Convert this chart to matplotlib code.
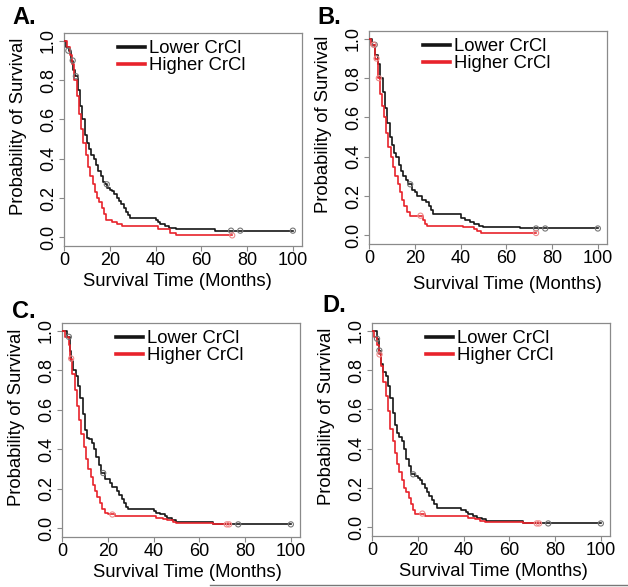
import matplotlib
matplotlib.use("Agg")
import matplotlib.pyplot as plt
from matplotlib.lines import Line2D

plt.rcParams['font.family'] = ['Liberation Sans', 'DejaVu Sans']

# ---- data ----
a_low_t = [0, 1, 2, 3, 4, 5, 6, 7, 8, 9, 10, 11, 12, 13, 14, 15, 16, 17, 18, 19, 20, 21, 22, 23,
           24, 25, 26, 27, 28, 29, 40, 41, 42, 44, 46, 49, 66, 100]
a_low_s = [1.0, 0.97, 0.95, 0.90, 0.85, 0.82, 0.75, 0.67, 0.60, 0.52, 0.48, 0.45, 0.42, 0.40,
           0.37, 0.34, 0.31, 0.28, 0.27, 0.25, 0.24, 0.235, 0.22, 0.20, 0.185, 0.17, 0.15, 0.13,
           0.115, 0.10, 0.09, 0.08, 0.07, 0.06, 0.05, 0.04, 0.034, 0.034]
a_low_ct = [1.9, 3.8, 5.2, 18.7, 73, 77, 100]
a_low_cs = [0.95, 0.90, 0.82, 0.27, 0.034, 0.034, 0.034]
a_high_t = [0, 1.5, 2.5, 3.5, 4.5, 5.5, 6.5, 7.5, 8.5, 9.5, 10.5, 11.5, 12.5, 13.5, 14.5, 15.5,
            16.5, 17.5, 18.5, 21, 23, 25.5, 41, 46.5, 49, 73.5]
a_high_s = [1.0, 0.97, 0.93, 0.88, 0.80, 0.72, 0.63, 0.55, 0.48, 0.42, 0.36, 0.31, 0.27, 0.23,
            0.20, 0.18, 0.15, 0.12, 0.09, 0.08, 0.07, 0.06, 0.04, 0.02, 0.01, 0.01]
a_high_ct = [73.5]
a_high_cs = [0.01]

b_low_t = [0, 1.5, 2.8, 4, 5, 6, 7, 8, 9, 10, 11, 12, 13, 14, 15, 16, 17, 19, 20, 21, 23, 25, 26,
           27, 28, 40, 42, 44, 46, 48, 50, 66, 100]
b_low_s = [1.0, 0.97, 0.92, 0.87, 0.80, 0.73, 0.65, 0.57, 0.50, 0.46, 0.42, 0.40, 0.36, 0.33,
           0.30, 0.28, 0.26, 0.23, 0.22, 0.20, 0.18, 0.17, 0.15, 0.13, 0.11, 0.09, 0.08, 0.07,
           0.06, 0.05, 0.045, 0.035, 0.035]
b_low_ct = [2.5, 18, 73, 77, 100]
b_low_cs = [0.97, 0.26, 0.035, 0.035, 0.035]
b_high_t = [0, 1, 2.5, 3.8, 4.8, 5.5, 6.5, 7.5, 8.5, 9.5, 10.5, 11.5, 12.5, 13.5, 14.5, 15.5,
            16.5, 18, 23.5, 24.5, 25.5, 41, 46, 47, 49, 73]
b_high_s = [1.0, 0.97, 0.90, 0.80, 0.72, 0.66, 0.60, 0.52, 0.45, 0.40, 0.35, 0.30, 0.26, 0.22,
            0.18, 0.15, 0.12, 0.10, 0.08, 0.06, 0.05, 0.04, 0.03, 0.02, 0.012, 0.012]
b_high_ct = [2, 3.3, 4.3, 22.5, 73]
b_high_cs = [0.97, 0.90, 0.80, 0.10, 0.012]

c_low_t = [0, 2, 3.5, 4, 5, 6, 7, 8, 9, 10, 11, 12, 13, 14, 15, 16, 17, 19, 21, 22, 24, 25, 26,
           27, 28, 29, 40, 41, 43, 45, 46, 48, 50, 66, 100]
c_low_s = [1.0, 0.97, 0.90, 0.85, 0.80, 0.77, 0.72, 0.66, 0.58, 0.50, 0.46, 0.45, 0.43, 0.40,
           0.36, 0.32, 0.28, 0.25, 0.23, 0.21, 0.19, 0.17, 0.15, 0.13, 0.11, 0.10, 0.09, 0.08,
           0.07, 0.06, 0.05, 0.04, 0.03, 0.02, 0.02]
c_low_ct = [3, 18, 77, 100]
c_low_cs = [0.97, 0.28, 0.02, 0.02]
c_high_t = [0, 1.5, 3, 3.5, 4.5, 5.5, 6.5, 7.5, 8.5, 9.5, 10.5, 11.5, 12.5, 13.5, 14.5, 15.5,
            16.5, 17.5, 19, 20, 23, 41, 44, 46, 48.5, 50, 66, 73.5]
c_high_s = [1.0, 0.97, 0.93, 0.86, 0.78, 0.70, 0.62, 0.55, 0.48, 0.41, 0.35, 0.30, 0.26, 0.22,
            0.19, 0.16, 0.13, 0.10, 0.08, 0.07, 0.06, 0.05, 0.045, 0.04, 0.03, 0.025, 0.02, 0.02]
c_high_ct = [4, 22, 72, 73]
c_high_cs = [0.86, 0.07, 0.02, 0.02]

d_low_t = [0, 2, 3, 4, 5, 6, 7, 8, 9, 10, 11, 12, 13, 14, 15, 16, 17, 19, 20, 21, 22, 23, 24, 25,
           26, 27, 28.5, 39, 41, 42, 44, 46, 48, 50, 66, 100]
d_low_s = [1.0, 0.96, 0.90, 0.83, 0.79, 0.77, 0.72, 0.66, 0.58, 0.52, 0.48, 0.46, 0.44, 0.40,
           0.35, 0.31, 0.27, 0.26, 0.25, 0.24, 0.22, 0.20, 0.18, 0.16, 0.14, 0.12, 0.10, 0.09,
           0.08, 0.07, 0.06, 0.05, 0.04, 0.03, 0.02, 0.02]
d_low_ct = [2.2, 3.2, 18, 77, 100]
d_low_cs = [0.96, 0.90, 0.27, 0.02, 0.02]
d_high_t = [0, 1, 2, 3, 4, 5, 6, 7, 8, 9, 10, 11, 12, 13, 14, 15, 16, 17, 18, 19, 23, 42, 45, 47,
            49.5, 66, 73.5]
d_high_s = [1.0, 0.97, 0.93, 0.88, 0.82, 0.74, 0.67, 0.59, 0.50, 0.44, 0.38, 0.32, 0.28, 0.24,
            0.20, 0.18, 0.15, 0.12, 0.09, 0.07, 0.06, 0.05, 0.04, 0.03, 0.025, 0.02, 0.02]
d_high_ct = [3.3, 22, 72, 73]
d_high_cs = [0.88, 0.07, 0.02, 0.02]

panel_letters = ["A.", "B.", "C.", "D."]
group_labels = ["Lower CrCl", "Higher CrCl"]
x_ticks = [0, 20, 40, 60, 80, 100]
y_ticks = [0.0, 0.2, 0.4, 0.6, 0.8, 1.0]

W, H = 628, 587
fig = plt.figure(figsize=(W / 100, H / 100), dpi=100)


def px_axes(left, right, top, bottom):
    return fig.add_axes([left / W, 1 - bottom / H, (right - left) / W, (bottom - top) / H])


BLACK = "#151515"
RED = "#e8232b"
GREY = "#8a8a8a"

# (box in pixels, letter position, ylabel x, xlabel position)
layout = [
    ((64, 302, 33, 246), (12, 17), -0.155, (0.475, -0.128)),
    ((369, 607, 31, 244), (317, 18), -0.155, (0.58, -0.148)),
    ((62, 300, 323, 537), (12, 311), -0.155, (0.527, -0.128)),
    ((372, 610, 323, 536), (322, 305), -0.155, (0.51, -0.126)),
]
curves = [
    (a_low_t, a_low_s, a_low_ct, a_low_cs, a_high_t, a_high_s, a_high_ct, a_high_cs),
    (b_low_t, b_low_s, b_low_ct, b_low_cs, b_high_t, b_high_s, b_high_ct, b_high_cs),
    (c_low_t, c_low_s, c_low_ct, c_low_cs, c_high_t, c_high_s, c_high_ct, c_high_cs),
    (d_low_t, d_low_s, d_low_ct, d_low_cs, d_high_t, d_high_s, d_high_ct, d_high_cs),
]

for i in range(4):
    box, letter_pos, ylab_x, xlab_pos = layout[i]
    lt, ls, lct, lcs, ht, hs, hct, hcs = curves[i]
    ax = px_axes(*box)

    ax.step(lt, ls, where="post", color=BLACK, lw=1.2, zorder=3)
    ax.step(ht, hs, where="post", color=RED, lw=1.2, zorder=4)
    ax.scatter(lct, lcs, s=14, facecolors="none", edgecolors="#777777", lw=0.8, zorder=5)
    ax.scatter(hct, hcs, s=14, facecolors="none", edgecolors="#ee8a8a", lw=0.8, zorder=5)

    ax.set_xlim(0, 104)
    ax.set_ylim(-0.044, 1.04)
    ax.set_xticks(x_ticks)
    ax.set_yticks(y_ticks)
    ax.set_xticklabels([str(v) for v in x_ticks])
    ax.set_yticklabels(["%.1f" % v for v in y_ticks], rotation=90, va="center")
    ax.tick_params(axis="both", length=3.5, width=0.8, color=GREY, labelsize=13, pad=1.5)
    ax.tick_params(axis="x", pad=1.0)
    for sp in ax.spines.values():
        sp.set_color(GREY)
        sp.set_linewidth(0.9)

    ax.set_xlabel("Survival Time (Months)", fontsize=13.3)
    ax.xaxis.set_label_coords(*xlab_pos)
    ax.set_ylabel("Probability of Survival", fontsize=13.3)
    ax.yaxis.set_label_coords(ylab_x, 0.56)

    handles = [Line2D([], [], color=BLACK, lw=2.6), Line2D([], [], color=RED, lw=2.6)]
    ax.legend(handles, group_labels, loc="upper left", bbox_to_anchor=(0.225, 0.965),
              frameon=False, fontsize=13.3, handlelength=1.5, handletextpad=0.2,
              borderpad=0, borderaxespad=0, labelspacing=0.0)

    fig.text(letter_pos[0] / W, 1 - letter_pos[1] / H, panel_letters[i], fontsize=17,
             fontweight="bold", ha="left", va="center")

# thin rule along the bottom edge
fig.add_artist(Line2D([210 / W, 1.0], [1 - 585 / H, 1 - 585 / H], color="#777777", lw=1.0))

fig.savefig("out.png", dpi=100)
